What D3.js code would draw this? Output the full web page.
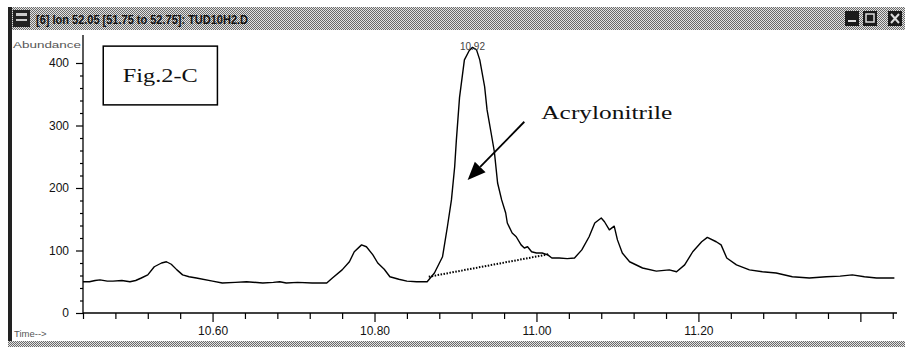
<!DOCTYPE html>
<html>
<head>
<meta charset="utf-8">
<script src="https://cdn.jsdelivr.net/npm/d3@7"></script>
<style>
  html, body { margin: 0; padding: 0; background: #fff; }
  svg { display: block; font-family: "Liberation Sans", Arial, sans-serif; }
  .serif { font-family: "Liberation Serif", "DejaVu Serif", serif; }
</style>
</head>
<body>
<svg id="chart" width="909" height="348"></svg>
<script>
// Ion chromatogram, m/z 52.05 — retention time (min) vs abundance
const times = [
  10.440, 10.448, 10.455, 10.461, 10.470, 10.477, 10.488, 10.498, 10.505, 10.512, 10.520, 10.528, 10.537,
  10.543, 10.549, 10.556, 10.563, 10.571, 10.580, 10.600, 10.612, 10.628, 10.642, 10.662, 10.675, 10.683,
  10.691, 10.705, 10.723, 10.741, 10.748, 10.760, 10.769, 10.775, 10.784, 10.790, 10.798, 10.804, 10.812,
  10.819, 10.830, 10.840, 10.852, 10.865, 10.874, 10.884, 10.890, 10.895, 10.899, 10.901, 10.905, 10.911,
  10.917, 10.921, 10.926, 10.930, 10.936, 10.939, 10.944, 10.948, 10.952, 10.957, 10.962, 10.964, 10.970,
  10.975, 10.981, 10.985, 10.989, 10.994, 11.000, 11.007, 11.014, 11.019, 11.028, 11.038, 11.047, 11.056,
  11.065, 11.072, 11.080, 11.084, 11.090, 11.096, 11.100, 11.106, 11.115, 11.131, 11.148, 11.164, 11.173,
  11.183, 11.193, 11.204, 11.211, 11.222, 11.228, 11.235, 11.247, 11.263, 11.279, 11.296, 11.316, 11.337,
  11.358, 11.375, 11.390, 11.405, 11.420, 11.442
];
const abundance = [
  50, 50, 52, 53, 51, 51, 52, 50, 52, 56, 61, 74, 80,
  82, 78, 69, 61, 58, 56, 51, 48, 49, 50, 48, 49, 50,
  48, 49, 48, 48, 56, 69, 82, 98, 109, 106, 93, 80, 70,
  58, 54, 51, 50, 50, 64, 90, 138, 181, 234, 275, 345, 405,
  420, 425, 421, 405, 362, 325, 288, 258, 208, 181, 160, 144, 128,
  122, 109, 104, 106, 98, 96, 96, 93, 88, 88, 87, 88, 101,
  122, 144, 152, 146, 133, 139, 117, 96, 82, 72, 67, 69, 66,
  77, 98, 114, 121, 114, 109, 88, 77, 69, 66, 64, 58, 56,
  58, 59, 61, 58, 56, 56
];

// Axis ticks
const yMajorTicks = [0, 100, 200, 300, 400];
const yMinorTicks = [20, 40, 60, 80, 120, 140, 160, 180, 220, 240, 260, 280, 320, 340, 360, 380];
const xMajorTicks = [10.60, 10.80, 11.00, 11.20, 11.40];
const xTickLabels = ["10.60", "10.80", "11.00", "11.20", ""];
const xMinorTicks = [10.44, 10.48, 10.52, 10.56, 10.64, 10.68, 10.72, 10.76, 10.84, 10.88, 10.92, 10.96,
  11.04, 11.08, 11.12, 11.16, 11.24, 11.28, 11.32, 11.36, 11.44];

// Integration baseline under the acrylonitrile peak
const baselineTimes = [10.867, 11.015];
const baselineValues = [58, 94];

// Peak annotation
const peakLabel = "10.92";
const peakTime = 10.921;
const peakValue = 425;
const compoundName = "Acrylonitrile";
const compoundAt = [11.006, 310];
const arrowFrom = [10.985, 306];
const arrowTo = [10.915, 213];
const figTitle = "Fig.2-C";
const figBox = [10.465, 427, 10.606, 333];

const windowTitle = "[6] Ion 52.05 [51.75 to 52.75]: TUD10H2.D";

const plotLeft = 83, plotRight = 896, plotBottom = 313, plotTop = 63;

const svg = d3.select("#chart");

// dithered window chrome
const defs = svg.append("defs");
const pat = defs.append("pattern").attr("id", "dither")
  .attr("width", 2).attr("height", 2).attr("patternUnits", "userSpaceOnUse");
pat.append("rect").attr("width", 2).attr("height", 2).attr("fill", "#e4e4e4");
pat.append("rect").attr("width", 1).attr("height", 1).attr("fill", "#6a6a6a");
pat.append("rect").attr("x", 1).attr("y", 1).attr("width", 1).attr("height", 1).attr("fill", "#6a6a6a");

const x = d3.scaleLinear().domain([10.44, 11.444]).range([plotLeft, plotRight]);
const y = d3.scaleLinear().domain([0, 400]).range([plotBottom, plotTop]);

// title bar
const tb = svg.append("g");
tb.append("rect").attr("x", 8).attr("y", 7).attr("width", 897).attr("height", 23).attr("fill", "url(#dither)");
// app icon
tb.append("rect").attr("x", 13).attr("y", 10).attr("width", 17).attr("height", 17).attr("fill", "#222");
tb.append("rect").attr("x", 16).attr("y", 13).attr("width", 11).attr("height", 3).attr("fill", "#ccc");
tb.append("rect").attr("x", 16).attr("y", 19).attr("width", 11).attr("height", 2).attr("fill", "#ccc");
tb.append("text").attr("x", 36).attr("y", 24)
  .attr("font-size", 12.5).attr("font-weight", "bold").attr("fill", "#111")
  .attr("textLength", 212).attr("lengthAdjust", "spacingAndGlyphs")
  .text(windowTitle);
// window buttons
[[845, "min"], [863, "max"], [888, "close"]].forEach(([bx, kind]) => {
  tb.append("rect").attr("x", bx).attr("y", 11).attr("width", 14).attr("height", 15).attr("fill", "#1a1a1a");
  if (kind === "min") {
    tb.append("rect").attr("x", bx + 3).attr("y", 20).attr("width", 8).attr("height", 2).attr("fill", "#ddd");
  } else if (kind === "max") {
    tb.append("rect").attr("x", bx + 3).attr("y", 14).attr("width", 8).attr("height", 8)
      .attr("fill", "none").attr("stroke", "#ddd").attr("stroke-width", 1.5);
  } else {
    tb.append("path").attr("d", `M${bx + 3},14 L${bx + 11},23 M${bx + 11},14 L${bx + 3},23`)
      .attr("stroke", "#ddd").attr("stroke-width", 2);
  }
});

// left border and bottom edge
svg.append("rect").attr("x", 8).attr("y", 7).attr("width", 4).attr("height", 340).attr("fill", "#222");
svg.append("rect").attr("x", 8).attr("y", 341).attr("width", 897).attr("height", 6).attr("fill", "url(#dither)");

// axis captions
svg.append("text").attr("x", 13).attr("y", 48).attr("font-size", 9.5).attr("fill", "#555")
  .attr("textLength", 68).attr("lengthAdjust", "spacingAndGlyphs").text("Abundance");
svg.append("text").attr("x", 14).attr("y", 337).attr("font-size", 9.5).attr("fill", "#555")
  .text("Time-->");

// y axis
const yAxisG = svg.append("g").attr("transform", `translate(${plotLeft},0)`);
yAxisG.append("line").attr("x1", 0).attr("x2", 0).attr("y1", 35).attr("y2", plotBottom)
  .attr("stroke", "#000").attr("stroke-width", 1.3);
yAxisG.append("g").call(d3.axisLeft(y).tickValues(yMajorTicks).tickSize(7).tickSizeOuter(0).tickPadding(7))
  .call(g => g.select(".domain").remove());
yAxisG.append("g").call(d3.axisLeft(y).tickValues(yMinorTicks).tickSize(3).tickFormat(""))
  .call(g => g.select(".domain").remove());

// x axis
const xAxisG = svg.append("g").attr("transform", `translate(0,${plotBottom})`);
xAxisG.append("line").attr("x1", plotLeft).attr("x2", plotRight + 1).attr("y1", 0).attr("y2", 0)
  .attr("stroke", "#000").attr("stroke-width", 1.3);
xAxisG.append("g").call(d3.axisBottom(x).tickValues(xMajorTicks).tickSize(9).tickPadding(4)
    .tickFormat((d, i) => xTickLabels[i]))
  .call(g => g.select(".domain").remove());
xAxisG.append("g").call(d3.axisBottom(x).tickValues(xMinorTicks).tickSize(6).tickFormat(""))
  .call(g => g.select(".domain").remove());

svg.selectAll(".tick text").attr("font-size", 12).attr("fill", "#111")
  .style("font-family", "'Liberation Sans', Arial, sans-serif");
svg.selectAll(".tick line").attr("stroke", "#000").attr("stroke-width", 1.2);

// trace
const series = times.map((t, i) => ({ t, v: abundance[i] }));
svg.append("path").datum(series)
  .attr("fill", "none").attr("stroke", "#000").attr("stroke-width", 1.4)
  .attr("stroke-linejoin", "round")
  .attr("d", d3.line().x(d => x(d.t)).y(d => y(d.v)));

// integration baseline (dotted)
svg.append("line")
  .attr("x1", x(baselineTimes[0])).attr("y1", y(baselineValues[0]))
  .attr("x2", x(baselineTimes[1])).attr("y2", y(baselineValues[1]))
  .attr("stroke", "#000").attr("stroke-width", 2).attr("stroke-dasharray", "1.5,1.5");

// peak retention-time label
svg.append("text").attr("x", x(peakTime)).attr("y", y(peakValue) + 2.5)
  .attr("text-anchor", "middle").attr("font-size", 10).attr("fill", "#444")
  .text(peakLabel);

// Fig. caption box
svg.append("rect")
  .attr("x", x(figBox[0])).attr("y", y(figBox[1]))
  .attr("width", x(figBox[2]) - x(figBox[0])).attr("height", y(figBox[3]) - y(figBox[1]))
  .attr("fill", "#fff").attr("stroke", "#000").attr("stroke-width", 1.5);
svg.append("text").attr("class", "serif")
  .attr("x", (x(figBox[0]) + x(figBox[2])) / 2).attr("y", (y(figBox[1]) + y(figBox[3])) / 2 + 6.5)
  .attr("text-anchor", "middle")
  .attr("font-size", 19).attr("fill", "#111")
  .attr("textLength", 75).attr("lengthAdjust", "spacingAndGlyphs")
  .text(figTitle);

// compound annotation with arrow
svg.append("text").attr("class", "serif").attr("x", x(compoundAt[0])).attr("y", y(compoundAt[1]))
  .attr("font-size", 19).attr("fill", "#111")
  .attr("textLength", 131).attr("lengthAdjust", "spacingAndGlyphs")
  .text(compoundName);

const ax1 = x(arrowFrom[0]), ay1 = y(arrowFrom[1]);
const ax2 = x(arrowTo[0]), ay2 = y(arrowTo[1]);
const ang = Math.atan2(ay2 - ay1, ax2 - ax1);
const headLen = 18, headHalf = 7.5;
const bx = ax2 - headLen * Math.cos(ang), by = ay2 - headLen * Math.sin(ang);
svg.append("line").attr("x1", ax1).attr("y1", ay1).attr("x2", bx).attr("y2", by)
  .attr("stroke", "#000").attr("stroke-width", 1.8);
svg.append("path")
  .attr("d", `M${ax2},${ay2} L${bx + headHalf * Math.sin(ang)},${by - headHalf * Math.cos(ang)} ` +
             `L${bx - headHalf * Math.sin(ang)},${by + headHalf * Math.cos(ang)} Z`)
  .attr("fill", "#000");
</script>
</body>
</html>
